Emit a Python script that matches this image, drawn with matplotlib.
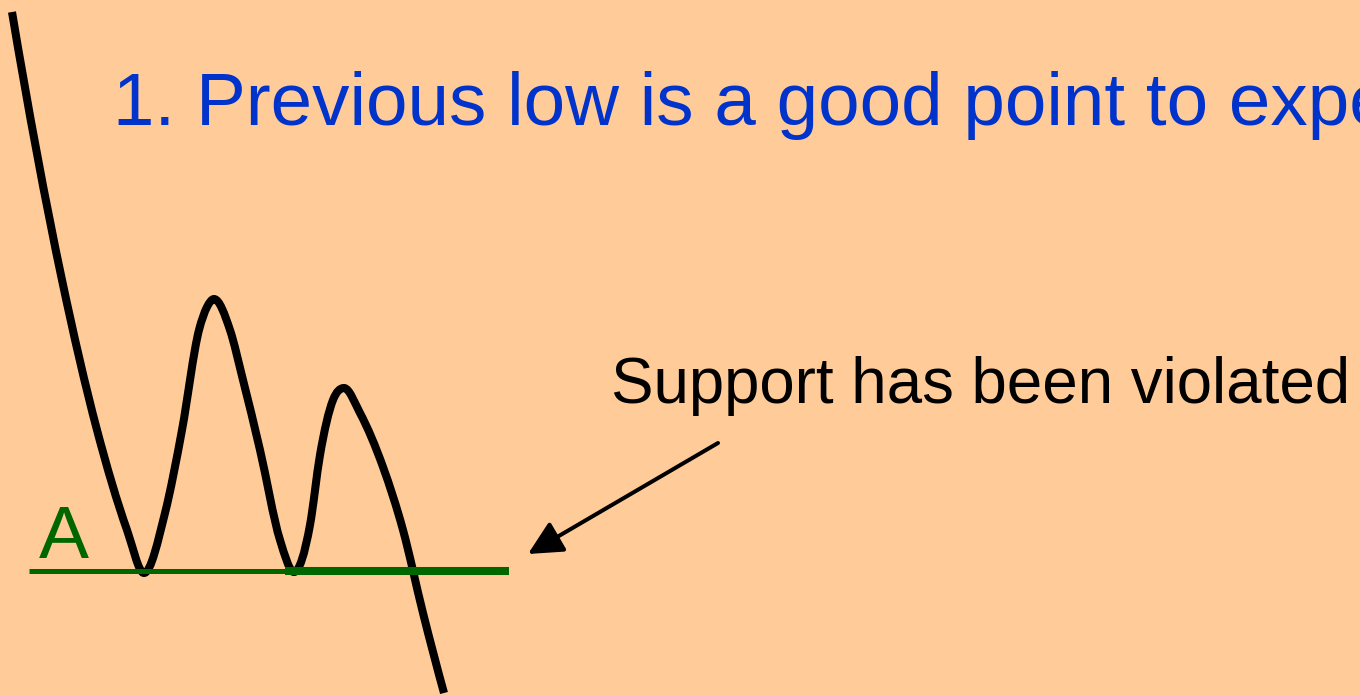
import matplotlib.pyplot as plt
from matplotlib.path import Path
from matplotlib.patches import PathPatch
import numpy as np

# price curve knots, in picture pixels (x right, y down)
curve_x = [12, 62, 97, 127, 144, 165, 182, 199, 207, 214, 230, 243, 260, 280, 294,
           310, 320, 333, 344, 360, 383, 403, 423, 444]
curve_y = [12, 280, 430, 530, 573, 513, 430, 330, 307, 299, 330, 380, 450, 540, 572,
           525, 455, 400, 388, 413, 467, 530, 613, 693]

support_thin = [29, 290, 571]    # x0, x1, y
support_thick = [285, 509, 571]

title_text = "1. Previous low is a good point to expect support"
note_text = "Support has been violated"
label_text = "A"

bg = "#FFCC99"
blue = "#0033CC"
green = "#006600"


def knot_slopes(x, y):
    h = np.diff(x)
    s = np.diff(y) / h
    m = np.zeros(len(x))
    for k in range(1, len(x) - 1):
        if s[k - 1] * s[k] <= 0:
            continue  # turning point: flat tangent
        v = (h[k] * s[k - 1] + h[k - 1] * s[k]) / (h[k - 1] + h[k])
        lim = 3 * min(abs(s[k - 1]), abs(s[k]))
        m[k] = np.sign(v) * min(abs(v), lim)
    m[0] = ((2 * h[0] + h[1]) * s[0] - h[0] * s[1]) / (h[0] + h[1])
    m[-1] = ((2 * h[-1] + h[-2]) * s[-1] - h[-1] * s[-2]) / (h[-1] + h[-2])
    return m


def smooth_path(xs, ys):
    # hermite pieces through the knots, written as bezier segments
    x = np.asarray(xs, float)
    y = np.asarray(ys, float)
    m = knot_slopes(x, y)
    verts = [(x[0], y[0])]
    codes = [Path.MOVETO]
    for i in range(len(x) - 1):
        h = (x[i + 1] - x[i]) / 3.0
        verts += [(x[i] + h, y[i] + m[i] * h),
                  (x[i + 1] - h, y[i + 1] - m[i + 1] * h),
                  (x[i + 1], y[i + 1])]
        codes += [Path.CURVE4] * 3
    return Path(verts, codes)


fig = plt.figure(figsize=(13.6, 6.95), dpi=100, facecolor=bg)
ax = fig.add_axes([0, 0, 1, 1])
ax.set_facecolor(bg)
ax.set_xlim(0, 1360)
ax.set_ylim(695, 0)
ax.axis('off')

ax.plot(support_thin[:2], [support_thin[2]] * 2, color=green, lw=3.6, solid_capstyle='butt')
ax.plot(support_thick[:2], [support_thick[2]] * 2, color=green, lw=5.8, solid_capstyle='butt')

ax.add_patch(PathPatch(smooth_path(curve_x, curve_y), facecolor='none',
                       edgecolor='black', lw=5.8, capstyle='butt', joinstyle='round'))

ax.text(113, 125, title_text, color=blue, fontsize=53.7, family='Liberation Sans',
        va='baseline', ha='left', clip_on=True)
ax.text(611, 403, note_text, color='black', fontsize=45.8, family='Liberation Sans',
        va='baseline', ha='left')
ax.text(39, 558, label_text, color=green, fontsize=54, family='Liberation Sans',
        va='baseline', ha='left')

ax.annotate('', xy=(528, 554), xytext=(718, 443),
            arrowprops=dict(arrowstyle='-|>', color='black', lw=2.9,
                            mutation_scale=52, shrinkA=0, shrinkB=0))

fig.savefig('out.png', dpi=100, facecolor=bg)
